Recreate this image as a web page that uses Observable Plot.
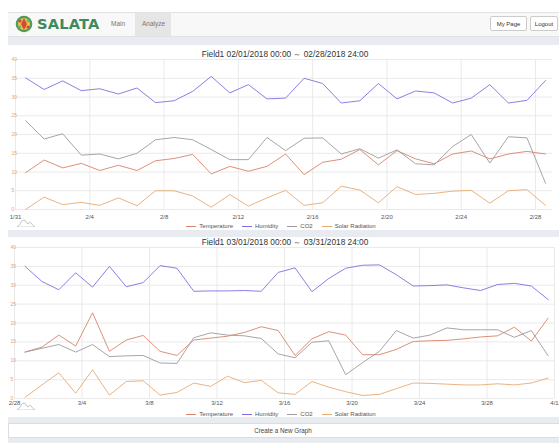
<!DOCTYPE html>
<html>
<head>
<meta charset="utf-8">
<script src="https://cdn.jsdelivr.net/npm/d3@7"></script>
<script src="https://cdn.jsdelivr.net/npm/@observablehq/plot@0.6"></script>
<style>
  html, body { margin: 0; padding: 0; background: #fff; width: 559px; height: 443px; overflow: hidden; font-family: "Liberation Sans", Arial, sans-serif; }
  .abs { position: absolute; }
  #wrap { position: absolute; left: 8px; top: 36px; width: 560px; height: 407px; background: #e8ebef; }
  .panel { position: absolute; left: 8px; width: 560px; background: #fff; }
  #nav { position: absolute; left: 8px; top: 12px; width: 560px; height: 23px; background: #f8f8f8; border-top: 1px solid #e2e2e2; border-bottom: 1px solid #e2e2e2; }
  .navtxt { position: absolute; font-size: 6.5px; color: #777; top: 8px; }
  .btn { position: absolute; top: 16px; height: 15px; background: #fff; border: 1px solid #ccc; border-radius: 2px; font-size: 6px; color: #333; line-height: 15px; text-align: center; box-sizing: border-box; }
  .title { position: absolute; left: 0; width: 570px; text-align: center; font-size: 8.3px; color: #333; }
  .legend { position: absolute; left: 0; width: 562px; display: flex; justify-content: center; gap: 9px; font-size: 6px; color: #555; line-height: 8px; }
  .legend span.item { display: flex; align-items: center; }
  .legend span.sw { display: inline-block; width: 10px; height: 0; border-top: 1.2px solid; margin-right: 3px; }
  svg.plot { position: absolute; left: 0; }
</style>
</head>
<body>
<script>
// ---------------- DATA ----------------
const seriesNames = ["Temperature", "Humidity", "CO2", "Solar Radiation"];
const seriesColors = ["#d8836a", "#7e70e2", "#9c9c9c", "#e6aa74"];

// Chart 1: 1/31 .. 2/28 (daily)
const febDates = ["2018-01-31","2018-02-01","2018-02-02","2018-02-03","2018-02-04","2018-02-05","2018-02-06","2018-02-07",
  "2018-02-08","2018-02-09","2018-02-10","2018-02-11","2018-02-12","2018-02-13","2018-02-14","2018-02-15",
  "2018-02-16","2018-02-17","2018-02-18","2018-02-19","2018-02-20","2018-02-21","2018-02-22","2018-02-23",
  "2018-02-24","2018-02-25","2018-02-26","2018-02-27","2018-02-28"];
const febTemperature = [9.8,13.2,11.1,12.3,10.4,11.8,10.4,13.0,13.6,14.7,9.5,11.5,10.2,11.5,14.8,9.3,12.6,13.4,16.0,11.9,15.7,13.5,12.2,14.8,15.6,13.5,14.8,15.5,14.8];
const febHumidity = [35.1,32.0,34.3,31.7,32.2,30.8,32.4,28.5,29.0,31.5,35.5,31.1,33.3,29.5,29.7,35.0,33.6,28.4,29.0,33.6,29.5,31.6,31.1,28.4,29.7,33.3,28.4,29.1,34.4];
const febCO2 = [23.7,18.8,20.2,14.5,14.8,13.5,15.0,18.6,19.2,18.6,16.0,13.3,13.3,19.2,15.7,19.0,19.1,14.8,16.2,13.7,15.9,12.2,11.9,16.8,20.0,12.4,19.4,19.1,7.0];
const febSolar = [0.0,3.3,1.3,1.9,1.1,3.1,1.0,5.0,5.0,3.6,0.6,4.0,0.9,3.1,5.1,1.1,1.8,6.2,5.2,1.8,6.1,4.0,4.3,4.9,5.1,1.7,5.0,5.3,1.1];
const febTickLabels = ["1/31","2/4","2/8","2/12","2/16","2/20","2/24","2/28"];

// Chart 2: 2/28 .. 3/31 (daily)
const marDates = ["2018-02-28","2018-03-01","2018-03-02","2018-03-03","2018-03-04","2018-03-05","2018-03-06","2018-03-07",
  "2018-03-08","2018-03-09","2018-03-10","2018-03-11","2018-03-12","2018-03-13","2018-03-14","2018-03-15",
  "2018-03-16","2018-03-17","2018-03-18","2018-03-19","2018-03-20","2018-03-21","2018-03-22","2018-03-23",
  "2018-03-24","2018-03-25","2018-03-26","2018-03-27","2018-03-28","2018-03-29","2018-03-30","2018-03-31"];
const marTemperature = [12.3,13.6,16.8,13.9,22.7,12.5,15.5,16.7,12.5,11.4,15.5,16.0,16.5,17.5,19.0,18.0,11.4,15.8,17.7,16.8,11.6,11.6,13.0,15.1,15.3,15.4,15.8,16.3,16.6,18.9,15.2,21.3];
const marHumidity = [35.0,31.0,28.8,33.3,29.5,35.0,29.6,30.7,35.2,34.5,28.4,28.5,28.5,28.6,28.4,33.4,34.6,28.3,31.8,34.5,35.3,35.4,32.8,29.8,29.9,30.1,29.3,28.6,30.2,30.5,29.8,26.2];
const marCO2 = [12.3,13.3,14.3,12.3,14.3,11.1,11.3,11.4,9.4,9.3,16.1,17.4,16.8,16.6,15.9,11.8,10.8,14.9,15.3,6.3,9.5,12.5,18.0,16.0,16.8,18.7,18.2,18.2,18.2,16.2,18.0,11.3];
const marSolar = [0.3,3.6,6.8,1.4,7.6,0.9,4.5,4.7,0.9,1.6,4.1,3.2,5.9,4.2,4.8,1.5,1.1,4.5,3.0,1.8,0.8,1.1,2.6,4.1,4.0,3.8,3.6,3.6,3.9,3.6,4.1,5.4];
const marTickLabels = ["2/28","3/4","3/8","3/12","3/16","3/20","3/24","3/28","4/1"];

const yTicks = [0,5,10,15,20,25,30,35,40];

// ---------------- PAGE CHROME ----------------
document.body.insertAdjacentHTML("beforeend", `
<div id="wrap"></div>
<div id="nav"></div>
<svg class="abs" style="left:15px;top:15px" width="18" height="18" viewBox="0 0 18 18">
  <circle cx="9" cy="9" r="8.3" fill="#4f9a5c"/>
  <circle cx="9" cy="9" r="6" fill="#e9c34a"/>
  <path d="M9 3 L12 9 L9 15 L6 9 Z" fill="#d4493a"/>
  <circle cx="5" cy="6" r="1.6" fill="#d4493a"/>
  <circle cx="13" cy="12" r="1.6" fill="#d4493a"/>
  <circle cx="13" cy="6" r="1.4" fill="#7bb56a"/>
  <circle cx="5" cy="12" r="1.4" fill="#7bb56a"/>
</svg>
<div class="abs" style="left:37px;top:15px;font-family:'DejaVu Sans';font-weight:bold;font-size:14.6px;color:#3d8a5c;letter-spacing:0.2px;line-height:18px">SALATA</div>
<div class="navtxt" style="left:111px;top:20px">Main</div>
<div class="abs" style="left:135px;top:13px;width:36px;height:23px;background:#e6e6e6"></div>
<div class="navtxt" style="left:142px;top:20px">Analyze</div>
<div class="btn" style="left:490px;width:37px">My Page</div>
<div class="btn" style="left:530px;width:28px">Logout</div>
<div class="panel" style="top:45px;height:185px"></div>
<div class="panel" style="top:237px;height:180px"></div>
<div class="panel" style="top:423px;height:15px;border:1px solid #dcdcdc;box-sizing:border-box;font-size:6.3px;color:#444;text-align:center;line-height:13px;padding-right:10px">Create a New Graph</div>
<div class="title" style="top:49px">Field1 02/01/2018 00:00 ～ 02/28/2018 24:00</div>
<div class="title" style="top:237px">Field1 03/01/2018 00:00 ～ 03/31/2018 24:00</div>
`);

function icon(top) {
  document.body.insertAdjacentHTML("beforeend",
    `<svg class="abs" style="left:16px;top:${top}px" width="20" height="8" viewBox="0 0 20 8">
      <path d="M1 7.5 C4 7.5 5 1 8 1 C10 1 11 5 12 5 C13 3 14 3 15 4 C16.5 5.5 17 7.5 19 7.5" fill="none" stroke="#999" stroke-width="0.6"/>
      <line x1="1" y1="7.6" x2="19" y2="7.6" stroke="#ccc" stroke-width="0.5"/>
    </svg>`);
}

function legend(top) {
  const items = seriesNames.map((n, i) =>
    `<span class="item"><span class="sw" style="border-color:${seriesColors[i]}"></span>${n}</span>`).join("");
  document.body.insertAdjacentHTML("beforeend", `<div class="legend" style="top:${top}px">${items}</div>`);
}

function parseTick(label) {
  const [m, d] = label.split("/").map(Number);
  return new Date(Date.UTC(2018, m - 1, d));
}

function chart({dates, values, tickLabels, hour, domain, top, height, mLeft, mRight, mBottom, tickPad}) {
  const rows = [];
  values.forEach((vals, s) => vals.forEach((v, i) => {
    rows.push({date: new Date(dates[i] + "T" + hour + ":00:00Z"), value: v, name: seriesNames[s]});
  }));
  const tickDates = tickLabels.map(parseTick);
  const labelOf = new Map(tickDates.map((d, i) => [+d, tickLabels[i]]));
  const color = new Map(seriesNames.map((n, i) => [n, seriesColors[i]]));
  const svg = Plot.plot({
    width: 559,
    height,
    marginLeft: mLeft,
    marginRight: mRight,
    marginTop: 4,
    marginBottom: mBottom,
    style: {fontFamily: "'Liberation Sans', Arial, sans-serif", fontSize: "6px", color: "#555", background: "transparent", overflow: "visible"},
    x: {type: "utc", domain, ticks: tickDates, tickFormat: d => labelOf.get(+d) ?? "", tickSize: 0, tickPadding: tickPad, label: null},
    y: {domain: [0, 40], axis: null},
    marks: [
      Plot.ruleY(yTicks, {stroke: "#e4e4e4", strokeWidth: 0.8}),
      Plot.ruleX(tickDates, {stroke: "#e4e4e4", strokeWidth: 0.8}),
      Plot.text(yTicks, {y: d => d, text: d => String(d), frameAnchor: "left", dx: -4, textAnchor: "start", fill: "#e3a283", fontSize: 5}),
      Plot.line(rows, {x: "date", y: "value", z: "name", stroke: d => color.get(d.name), strokeWidth: 0.9})
    ]
  });
  svg.classList.add("plot");
  svg.style.top = top + "px";
  document.body.appendChild(svg);
}

chart({
  dates: febDates,
  values: [febTemperature, febHumidity, febCO2, febSolar],
  tickLabels: febTickLabels,
  hour: "13",
  domain: [new Date("2018-01-31T00:00:00Z"), new Date("2018-02-28T22:00:00Z")],
  top: 55, height: 168, mLeft: 15, mRight: 7, mBottom: 14, tickPad: 5
});
legend(222);
icon(219);

chart({
  dates: marDates,
  values: [marTemperature, marHumidity, marCO2, marSolar],
  tickLabels: marTickLabels,
  hour: "15",
  domain: [new Date("2018-02-28T00:00:00Z"), new Date("2018-04-01T00:00:00Z")],
  top: 243, height: 169, mLeft: 14, mRight: 5, mBottom: 14, tickPad: 2.5
});
legend(410);
icon(402);
</script>
</body>
</html>
